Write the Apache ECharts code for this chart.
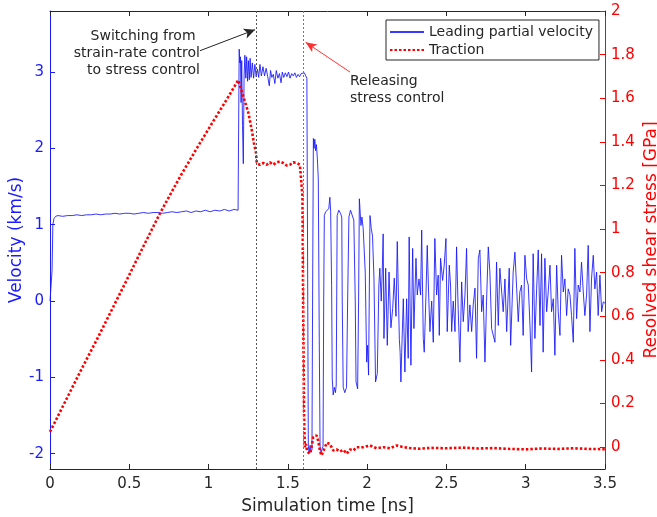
<!DOCTYPE html>
<html>
<head>
<meta charset="utf-8">
<script src="https://cdn.jsdelivr.net/npm/echarts@6/dist/echarts.min.js"></script>
<style>html,body{margin:0;padding:0;background:#fff}#c{width:657px;height:517px}</style>
</head>
<body>
<div id="c"></div>
<script>
// ---- data ----
var xTicks = [0, 0.5, 1, 1.5, 2, 2.5, 3, 3.5];
var velocityTicks = [-2, -1, 0, 1, 2, 3];
var stressTicks = [0, 0.2, 0.4, 0.6, 0.8, 1, 1.2, 1.4, 1.6, 1.8, 2];

var velocityTime = [
 0,0.008,0.013,0.018,0.025,0.035,0.05,0.08,0.11,0.14,0.17,0.2,0.23,0.26,0.29,0.32,0.35,0.38,0.41,0.44,0.47,0.5,0.53,0.56,0.59,0.62,0.65,0.68,0.71,0.74,0.77,0.8,0.83,0.86,0.89,0.92,0.95,0.98,1.01,1.04,1.07,1.1,1.13,1.16,1.186,
 1.19,1.193,1.197,1.201,1.205,1.209,1.214,1.219,1.224,1.229,1.235,1.24,1.246,1.251,1.257,1.262,1.268,1.276,1.284,1.292,1.3,1.308,1.316,1.324,1.333,1.343,1.353,1.363,1.373,1.383,1.391,1.399,1.408,1.418,1.427,1.437,1.447,1.457,1.465,1.474,1.484,1.494,1.504,1.514,1.524,1.534,1.544,1.554,1.564,1.574,1.584,1.594,1.604,1.614,1.62,
 1.624,1.629,1.634,1.64,1.646,1.652,1.657,1.661,1.665,1.67,1.675,1.68,1.686,1.692,1.698,1.703,1.709,1.716,1.722,1.726,1.73,1.738,1.748,1.758,1.765,1.77,1.776,1.78,1.786,1.793,1.8,1.805,1.808,1.811,1.821,1.832,1.84,1.843,1.849,1.859,1.87,1.877,1.885,1.895,1.906,1.916,1.925,1.93,1.94,1.946,1.951,1.961,1.967,1.975,1.988,1.997,2.003,2.009,2.018,2.026,2.034,2.043,2.053,2.064,2.074,2.08,2.089,2.095,2.101,2.106,2.117,2.127,2.138,2.15,2.161,2.171,2.182,2.19,2.203,2.208,2.213,
 2.218,2.228,2.238,2.249,2.259,2.265,2.276,2.287,2.295,2.308,2.316,2.327,2.337,2.344,2.354,2.36,2.371,2.379,2.388,2.396,2.407,2.417,2.427,2.438,2.448,2.455,2.463,2.476,2.486,2.497,2.505,2.518,2.526,2.533,2.543,2.554,2.564,2.574,2.585,2.596,2.606,2.617,2.627,2.637,2.648,2.659,2.669,2.68,2.69,2.701,2.711,2.722,2.732,2.743,2.753,2.764,2.774,2.785,2.806,2.816,2.827,2.837,
 2.848,2.858,2.869,2.88,2.896,2.905,2.921,2.932,2.943,2.953,2.963,2.974,2.984,2.995,3.006,3.016,3.027,3.037,3.047,3.058,3.069,3.079,3.09,3.1,3.11,3.121,3.132,3.142,3.153,3.163,3.174,3.184,3.195,3.205,3.216,3.226,3.237,3.247,3.258,3.268,3.279,3.289,3.3,3.31,3.321,3.331,3.342,3.352,3.363,3.373,3.384,3.394,3.405,3.415,3.426,3.436,3.447,3.457,3.468,3.479,3.489,3.5
];
var velocityValue = [
 0,-0.02,0.4,1.0,1.08,1.11,1.12,1.11,1.12,1.12,1.13,1.12,1.13,1.13,1.14,1.13,1.14,1.14,1.15,1.14,1.15,1.15,1.14,1.15,1.16,1.15,1.16,1.16,1.15,1.16,1.17,1.16,1.17,1.18,1.16,1.18,1.17,1.19,1.17,1.19,1.18,1.2,1.18,1.2,1.19,
 2.4,3.3,3.12,3.2,2.6,3.15,2.3,1.8,2.95,3.22,2.92,3.2,2.88,3.15,2.9,3.18,2.93,3.12,2.92,3.1,2.94,3.04,2.93,3.1,2.95,3.07,2.95,3.05,2.94,2.82,3.02,2.93,2.97,2.85,3.02,2.92,2.98,2.86,3.0,2.93,2.99,2.94,3.0,2.92,2.98,2.95,2.99,2.93,2.97,2.94,2.98,2.96,2.99,2.98,2.92,
 0.8,-1.9,-1.98,-1.89,-1.98,-1.95,0.5,2.13,2.0,2.12,1.97,2.05,1.87,1.6,-0.5,-1.9,-1.98,-2.0,-1.9,0.0,1.12,1.17,1.15,1.21,1.36,1.17,0.2,-1.02,-1.23,-1.13,-1.2,-1.1,0.0,1.12,1.19,1.15,1.1,0.0,-1.13,-1.2,-1.13,0.0,1.1,1.19,1.19,1.06,0.0,-1.06,-1.15,0.0,1.34,0.99,1.1,0.95,0.38,-0.8,-0.58,-0.97,1.12,0.95,0.85,0.3,-1.06,-0.95,0.21,0.43,0.0,0.38,0.88,-0.49,0.43,-0.58,0.38,-0.35,-0.1,0.3,-0.2,0.78,-0.5,-0.67,-1.06,
 -0.67,0.03,-0.93,0.03,-0.75,0.84,-0.84,0.69,-0.36,0.56,0.08,0.29,0.08,0.93,-0.49,-0.67,0.08,0.73,0.08,-0.4,0.0,-0.54,0.82,0.08,0.34,-0.45,0.56,0.27,0.47,0.82,-0.4,0.47,0.21,-0.4,0.0,-0.4,0.71,-0.1,-0.8,0.25,-0.27,0.08,0.69,-0.4,-0.05,-0.4,-0.05,0.17,-0.75,0.56,0.67,-0.14,0.08,-0.8,0.0,0.71,0.38,-0.36,-0.54,0.51,-0.32,0.43,
 0.43,-0.14,0.29,-0.4,0.43,-0.58,0.38,0.64,0.16,-0.27,0.12,0.21,-0.45,0.6,0.29,0.21,-0.32,-0.93,0.62,-0.49,0.16,0.67,-0.32,0.62,-0.67,0.56,-0.14,0.12,0.47,-0.14,0.03,-0.71,0.47,-0.14,-0.45,0.6,0.12,0.29,-0.19,0.16,0.08,-0.19,-0.54,0.69,-0.23,0.21,0.12,0.51,0.12,-0.19,0.08,0.73,-0.4,0.29,0.6,0.16,0.38,-0.19,0.34,-0.14,-0.01,-0.03
];

var tractionTime = [
 0,0.1,0.2,0.3,0.4,0.5,0.578,0.694,0.82,0.946,1.03,1.114,1.187,1.219,1.251,1.272,1.286,1.299,1.303,1.307,
 1.324,1.345,1.366,1.387,1.408,1.429,1.45,1.471,1.492,1.513,1.534,1.555,1.576,1.587,
 1.592,1.597,1.602,1.607,1.614,1.622,1.639,1.649,1.66,1.67,1.681,1.691,1.702,1.712,1.722,1.734,1.745,1.755,1.765,1.786,1.807,1.829,1.85,1.871,1.892,1.913,1.934,1.976,2.018,2.06,2.102,2.144,2.186,2.23,2.28,2.333,2.4,2.5,2.6,2.7,2.8,2.9,3.0,3.1,3.2,3.3,3.4,3.5
];
var tractionValue = [
 0.07,0.215,0.36,0.5,0.645,0.79,0.905,1.073,1.24,1.395,1.495,1.594,1.683,1.609,1.533,1.456,1.395,1.35,1.31,1.3,
 1.295,1.303,1.295,1.306,1.295,1.306,1.31,1.303,1.292,1.295,1.306,1.303,1.295,1.287,
 1.15,0.6,0.15,0.0,0.015,-0.02,-0.03,0.0,0.046,0.052,0.054,0.03,-0.015,-0.038,-0.03,0.0,0.02,0.023,0.015,-0.015,-0.01,-0.02,-0.012,-0.03,-0.01,-0.015,0.0,0.0,0.008,-0.005,0.0,-0.005,0.008,0.0,-0.005,-0.007,-0.003,-0.005,-0.002,-0.006,-0.004,-0.008,-0.01,-0.006,-0.008,-0.005,-0.008,-0.009
];

function zip(a, b) { var r = []; for (var i = 0; i < a.length; i++) r.push([a[i], b[i]]); return r; }

var FONT = 'DejaVu Sans';
var BLUE = '#1a1aff', RED = '#ff0000', INK = '#262626';

var chart = echarts.init(document.getElementById('c'), null, {renderer: 'canvas'});
chart.setOption({
  animation: false,
  backgroundColor: '#fff',
  textStyle: {fontFamily: FONT},
  grid: {left: 50, right: 52, top: 11, bottom: 48, containLabel: false, outerBoundsMode: 'none'},
  legend: {
    left: 386, top: 20, orient: 'vertical',
    itemWidth: 34, itemHeight: 14, itemGap: 4,
    padding: [5, 6, 3, 3],
    borderColor: INK, borderWidth: 1, backgroundColor: '#fff',
    itemStyle: {opacity: 0},
    textStyle: {fontSize: 14, color: INK, fontFamily: FONT},
    data: ['Leading partial velocity', 'Traction']
  },
  xAxis: [{
    type: 'value', min: 0, max: 3.5, interval: 0.5, position: 'bottom',
    name: 'Simulation time [ns]', nameLocation: 'middle', nameGap: 29, nameMoveOverlap: false,
    nameTextStyle: {fontSize: 17, color: INK, fontFamily: FONT},
    axisLine: {show: true, onZero: false, lineStyle: {color: INK, width: 1}},
    axisTick: {show: true, inside: true, length: 5, lineStyle: {color: INK}},
    axisLabel: {color: INK, fontSize: 15, margin: 8, fontFamily: FONT,
      customValues: xTicks, formatter: function (v) { return String(v); }},
    splitLine: {show: false}
  }, {
    type: 'value', min: 0, max: 3.5, interval: 0.5, position: 'top',
    axisLine: {show: true, onZero: false, lineStyle: {color: INK, width: 1}},
    axisTick: {show: true, inside: true, length: 5, lineStyle: {color: INK}},
    axisLabel: {show: false},
    splitLine: {show: false}
  }],
  yAxis: [{
    type: 'value', min: -2.2, max: 3.8, position: 'left',
    name: 'Velocity (km/s)', nameLocation: 'middle', nameGap: 25, nameRotate: 90, nameMoveOverlap: false,
    nameTextStyle: {fontSize: 17, color: BLUE, fontFamily: FONT},
    axisLine: {show: true, onZero: false, lineStyle: {color: BLUE, width: 1}},
    axisTick: {show: true, inside: true, length: 5, customValues: velocityTicks, lineStyle: {color: BLUE}},
    axisLabel: {color: BLUE, fontSize: 15, margin: 6, fontFamily: FONT, customValues: velocityTicks,
      formatter: function (v) { return String(v); }},
    splitLine: {show: false}
  }, {
    type: 'value', min: -0.1, max: 2, position: 'right',
    name: 'Resolved shear stress [GPa]', nameLocation: 'middle', nameGap: 38, nameRotate: 90, nameMoveOverlap: false,
    nameTextStyle: {fontSize: 17, color: RED, fontFamily: FONT},
    axisLine: {show: true, onZero: false, lineStyle: {color: RED, width: 1}},
    axisTick: {show: true, inside: true, length: 5, customValues: stressTicks, lineStyle: {color: RED}},
    axisLabel: {color: RED, fontSize: 15, margin: 6, fontFamily: FONT, customValues: stressTicks,
      formatter: function (v) { return String(Math.round(v * 10) / 10); }},
    splitLine: {show: false}
  }],
  series: [{
    name: 'Leading partial velocity', type: 'line', xAxisIndex: 0, yAxisIndex: 0,
    symbol: 'none', showSymbol: false,
    lineStyle: {color: 'rgba(20,20,255,0.85)', width: 1},
    itemStyle: {color: 'rgba(20,20,255,0.85)'},
    data: zip(velocityTime, velocityValue),
    markLine: {
      silent: true, animation: false,
      label: {show: false},
      emphasis: {disabled: true},
      data: [
        [{xAxis: 1.3, yAxis: -2.2, symbol: 'none', lineStyle: {color: '#555', width: 1, type: [2, 2]}},
         {xAxis: 1.3, yAxis: 3.8, symbol: 'none'}],
        [{xAxis: 1.6, yAxis: -2.2, symbol: 'none', lineStyle: {color: '#ff4040', width: 1, type: [2, 2]}},
         {xAxis: 1.6, yAxis: 3.8, symbol: 'none'}],
        [{coord: [0.946, 3.28], symbol: 'none', lineStyle: {color: INK, width: 1, type: 'solid'}},
         {coord: [1.293, 3.555], symbol: 'arrow', symbolSize: [8, 11], itemStyle: {color: '#000'}}],
        [{coord: [1.892, 3.0], symbol: 'none', lineStyle: {color: '#ff3030', width: 1, type: 'solid'}},
         {coord: [1.612, 3.39], symbol: 'arrow', symbolSize: [7, 11], itemStyle: {color: '#ff3030'}}]
      ]
    }
  }, {
    name: 'Traction', type: 'line', xAxisIndex: 0, yAxisIndex: 1,
    symbol: 'none', showSymbol: false,
    lineStyle: {color: RED, width: 2.6, type: [2.5, 2]},
    itemStyle: {color: RED},
    data: zip(tractionTime, tractionValue)
  }],
  graphic: [{
    type: 'text', x: 200, y: 28, silent: true,
    style: {text: 'Switching from \nstrain-rate control\nto stress control', align: 'right', verticalAlign: 'top',
      font: '14px "DejaVu Sans"', fill: INK, lineHeight: 17}
  }, {
    type: 'text', x: 350, y: 73, silent: true,
    style: {text: 'Releasing\nstress control', align: 'left', verticalAlign: 'top',
      font: '14px "DejaVu Sans"', fill: INK, lineHeight: 17}
  }]
});
</script>
</body>
</html>
